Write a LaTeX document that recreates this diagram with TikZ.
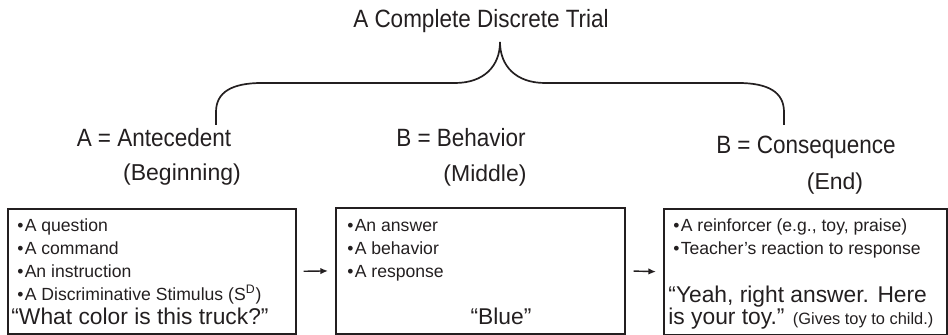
\documentclass[tikz,border=0pt]{standalone}
\usepackage{fontspec}
\setmainfont{Liberation Sans}
\newfontfamily\condfont{Liberation Sans}[FakeStretch=0.9]
\usetikzlibrary{arrows.meta}
\definecolor{ink}{HTML}{231F20}
\begin{document}
\begin{tikzpicture}[x=0.5pt,y=-0.5pt,
  every node/.style={text=ink},
  head/.style={font=\condfont\fontsize{12.5}{14}\selectfont, inner sep=0, anchor=base},
  sub/.style={font=\fontsize{11.5}{13}\selectfont, inner sep=0, anchor=base},
  item/.style={font=\fontsize{8.8}{11}\selectfont, inner sep=0, anchor=base west},
  big/.style={font=\fontsize{11.4}{13}\selectfont, inner sep=0, anchor=base west},
  panel/.style={draw=ink, line width=0.85pt, inner sep=0, anchor=north west},
  flow/.style={draw=ink, line width=0.7pt, -{Latex[length=3.8pt,width=3.2pt]}},
  bracestyle/.style={draw=ink, line width=0.85pt}]
\useasboundingbox (0,0) rectangle (948,335);
\newcommand{\bul}{\textbullet\hspace{0.6pt}}

% title
\node[head] (title) at (481,28) {A Complete Discrete Trial};

% brace
\coordinate (tip) at (500,42);
\coordinate (lend) at (216,125);
\coordinate (rend) at (784,125);
\draw[bracestyle] (lend) -- (216,112) .. controls (216,92) and (232,83) .. (262,83)
  -- (455,83) .. controls (484,83) and (500,66) .. (tip)
  .. controls (500,66) and (516,83) .. (545,83)
  -- (738,83) .. controls (768,83) and (784,92) .. (784,112) -- (rend);

% labels
\node[head] (ante) at (154,147) {A = Antecedent};
\node[sub]  (beg)  at (182,181) {(Beginning)};
\node[head] (beh)  at (461,147) {B = Behavior};
\node[sub]  (mid)  at (485,182) {(Middle)};
\node[head] (cons) at (806,154) {B = Consequence};
\node[sub]  (endl) at (835,190) {(End)};

% boxes
\node[panel, minimum width=144pt, minimum height=62.5pt] (boxA) at (7,208) {};
\node[panel, minimum width=144.5pt, minimum height=63pt] (boxB) at (335,207) {};
\node[panel, minimum width=141.5pt, minimum height=63pt] (boxC) at (663,208) {};

% box A text
\node[item] (a1) at (17,232) {\bul A question};
\node[item] (a2) at (17,255) {\bul A command};
\node[item] (a3) at (17,278) {\bul An instruction};
\node[item] (a4) at (17,301) {\bul A Discriminative Stimulus (S\textsuperscript{D})};
\node[big]  (a5) at (11,325) {“What color is this truck?”};

% box B text
\node[item] (b1) at (347,232) {\bul An answer};
\node[item] (b2) at (347,255) {\bul A behavior};
\node[item] (b3) at (347,278) {\bul A response};
\node[big, anchor=base] (b4) at (501,325) {“Blue”};

% box C text
\node[item] (c1) at (673,232) {\bul A reinforcer (e.g., toy, praise)};
\node[item] (c2) at (673,255) {\bul Teacher’s reaction to response};
\node[big]  (c3) at (668,303) {“Yeah, right answer. Here};
\node[big]  (c4) at (668,325) {is your toy.” {\fontsize{8.2}{9}\selectfont (Gives toy to child.)}};

% arrows
\draw[flow, shorten <=7pt*0.5, shorten >=7pt*0.5] (boxA.east) -- (boxB.west);
\draw[flow, shorten <=8pt*0.5, shorten >=7pt*0.5] (boxB.east) -- (boxC.west);
\end{tikzpicture}
\end{document}
